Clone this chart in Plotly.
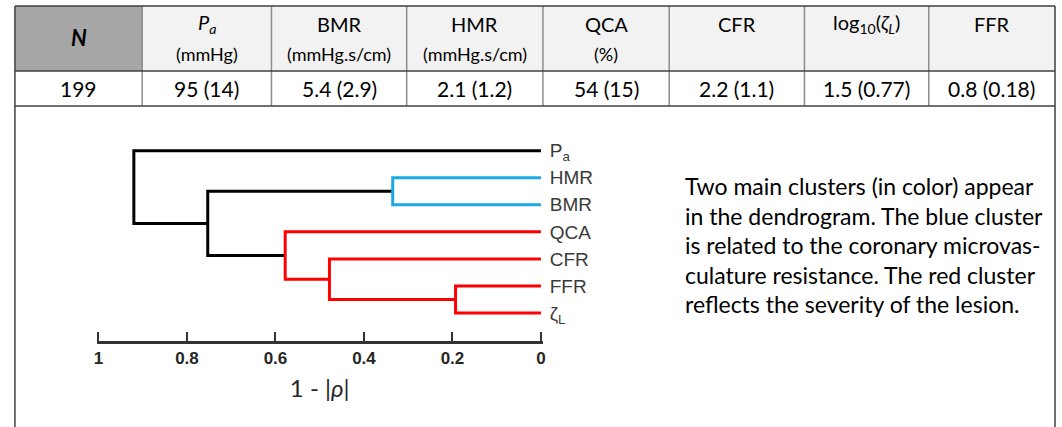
import plotly.graph_objects as go

# ---- summary table ----
table_headers = ["<b><i>N</i></b>", "<i>P<sub>a</sub></i>", "BMR", "HMR", "QCA", "CFR",
                 "log<sub>10</sub>(<i>ζ<sub>L</sub></i>)", "FFR"]
table_units = ["", "(mmHg)", "(mmHg.s/cm)", "(mmHg.s/cm)", "(%)", "", "", ""]
table_values = ["199", "95 (14)", "5.4 (2.9)", "2.1 (1.2)", "54 (15)", "2.2 (1.1)",
                "1.5 (0.77)", "0.8 (0.18)"]

# ---- dendrogram (leaves listed top to bottom) ----
leaf_labels = ["P<sub>a</sub>", "HMR", "BMR", "QCA", "CFR", "FFR", "ζ<sub>L</sub>"]
# each merge joins two nodes: leaves are 0..6, merged nodes are numbered 7, 8, ...
merge_left = [5, 1, 4, 3, 8, 0]
merge_right = [6, 2, 7, 9, 10, 11]
merge_height = [0.193, 0.335, 0.478, 0.578, 0.753, 0.92]
merge_cluster = ["red", "blue", "red", "red", "black", "black"]
cluster_colors = {"black": "#000000", "blue": "#1aa9e4", "red": "#ff0000"}

axis_tickvals = [1, 0.8, 0.6, 0.4, 0.2, 0]
axis_ticktext = ["1", "0.8", "0.6", "0.4", "0.2", "0"]

caption_lines = [
    "Two main clusters (in color) appear",
    "in the dendrogram. The blue cluster",
    "is related to the coronary microvas-",
    "culature resistance. The red cluster",
    "reflects the severity of the lesion.",
]

# ---- page geometry (pixels) ----
W, H = 1062, 427


def fx(px):
    return px / W


def fy(py):
    return 1 - py / H


col_edges = [12, 140, 270, 406, 543, 670, 806, 931, 1058]
row_top, row_mid, row_bot = 6, 71, 106
body_font = "Lato, Carlito, Calibri, sans-serif"
arial = "Liberation Sans, Arial, sans-serif"
dark = "#404040"

shapes = []
annotations = []


def label(px, py, text, size, family=body_font, xanchor="center", color="#000"):
    annotations.append(dict(x=fx(px), y=fy(py), text=text, showarrow=False,
                            xref="paper", yref="paper",
                            xanchor=xanchor, yanchor="middle",
                            font=dict(family=family, size=size, color=color)))


# header cell fills
for i in range(len(table_headers)):
    shapes.append(dict(type="rect", xref="paper", yref="paper",
                       x0=fx(col_edges[i]), x1=fx(col_edges[i + 1]),
                       y0=fy(row_mid), y1=fy(row_top),
                       fillcolor="#a6a6a6" if i == 0 else "#f2f2f2",
                       line=dict(width=0), layer="below"))
# inner column separators
for xe in col_edges[1:-1]:
    shapes.append(dict(type="line", xref="paper", yref="paper",
                       x0=fx(xe), x1=fx(xe), y0=fy(row_bot), y1=fy(row_top),
                       line=dict(color="#8c8c8c", width=1.5)))
# horizontal rules
for ye in (row_top, row_mid, row_bot):
    shapes.append(dict(type="line", xref="paper", yref="paper",
                       x0=fx(col_edges[0]), x1=fx(col_edges[-1]), y0=fy(ye), y1=fy(ye),
                       line=dict(color=dark, width=1.5)))
# outer side borders running down through the lower cell
for xe in (col_edges[0], col_edges[-1]):
    shapes.append(dict(type="line", xref="paper", yref="paper",
                       x0=fx(xe), x1=fx(xe), y0=0, y1=fy(row_top),
                       line=dict(color=dark, width=1.5)))

for i, (hd, un, val) in enumerate(zip(table_headers, table_units, table_values)):
    cx = (col_edges[i] + col_edges[i + 1]) / 2
    if i == 0:
        label(cx, 38, hd, 22)
    else:
        label(cx, 24, hd, 20)
        if un:
            label(cx, 54, un, 18)
    label(cx, 88, val, 21)

# caption to the right of the dendrogram
for k, line in enumerate(caption_lines):
    label(684, 186 + 29.6 * k, line, 23, xanchor="left")

# ---- build dendrogram segments from the merge list ----
n_leaves = len(leaf_labels)
node_y = [float(i) for i in range(n_leaves)]
node_h = [0.0] * n_leaves
segs = {c: ([], []) for c in cluster_colors}
for a, b, h, c in zip(merge_left, merge_right, merge_height, merge_cluster):
    xs, ys = segs[c]
    xs += [node_h[a], h, h, node_h[b], None]
    ys += [node_y[a], node_y[a], node_y[b], node_y[b], None]
    node_y.append((node_y[a] + node_y[b]) / 2)
    node_h.append(h)

fig = go.Figure()
for c, (xs, ys) in segs.items():
    fig.add_trace(go.Scatter(x=xs, y=ys, mode="lines",
                             line=dict(color=cluster_colors[c], width=3),
                             hoverinfo="skip", showlegend=False))

# x axis: value 1 sits at px 96, value 0 at px 541; a hair of padding keeps end ticks
px_per_unit = 541 - 96
pad = 0.004
leaf_top, leaf_step = 150.7, 27.05
y_lo, y_hi = -0.6, n_leaves - 1 + 0.6
fig.update_layout(
    width=W, height=H,
    margin=dict(l=0, r=0, t=0, b=0),
    paper_bgcolor="white", plot_bgcolor="rgba(0,0,0,0)",
    shapes=shapes, annotations=annotations,
    xaxis=dict(
        domain=[fx(96 - pad * px_per_unit), fx(541 + pad * px_per_unit)],
        range=[1 + pad, -pad],
        anchor="free", position=fy(342),
        showgrid=False, zeroline=False,
        showline=True, linecolor="#333333", linewidth=2.5,
        ticks="inside", ticklen=9, tickwidth=2, tickcolor="#333333",
        tickvals=axis_tickvals,
        ticktext=["<b>%s</b>" % t for t in axis_ticktext],
        tickfont=dict(family=arial, size=17, color="#262626"),
        title=dict(text="1 - |<i>ρ</i>|", standoff=13,
                   font=dict(family=body_font, size=24, color="#262626")),
    ),
    yaxis=dict(
        domain=[fy(leaf_top + y_hi * leaf_step), fy(leaf_top + y_lo * leaf_step)],
        range=[y_hi, y_lo], anchor="x", side="right",
        showgrid=False, zeroline=False, showline=False, ticks="",
        ticklabelstandoff=6,
        tickvals=list(range(n_leaves)), ticktext=leaf_labels,
        tickfont=dict(family=arial, size=19, color="#3a3a3a"),
    ),
)

fig.write_html("out.html")
